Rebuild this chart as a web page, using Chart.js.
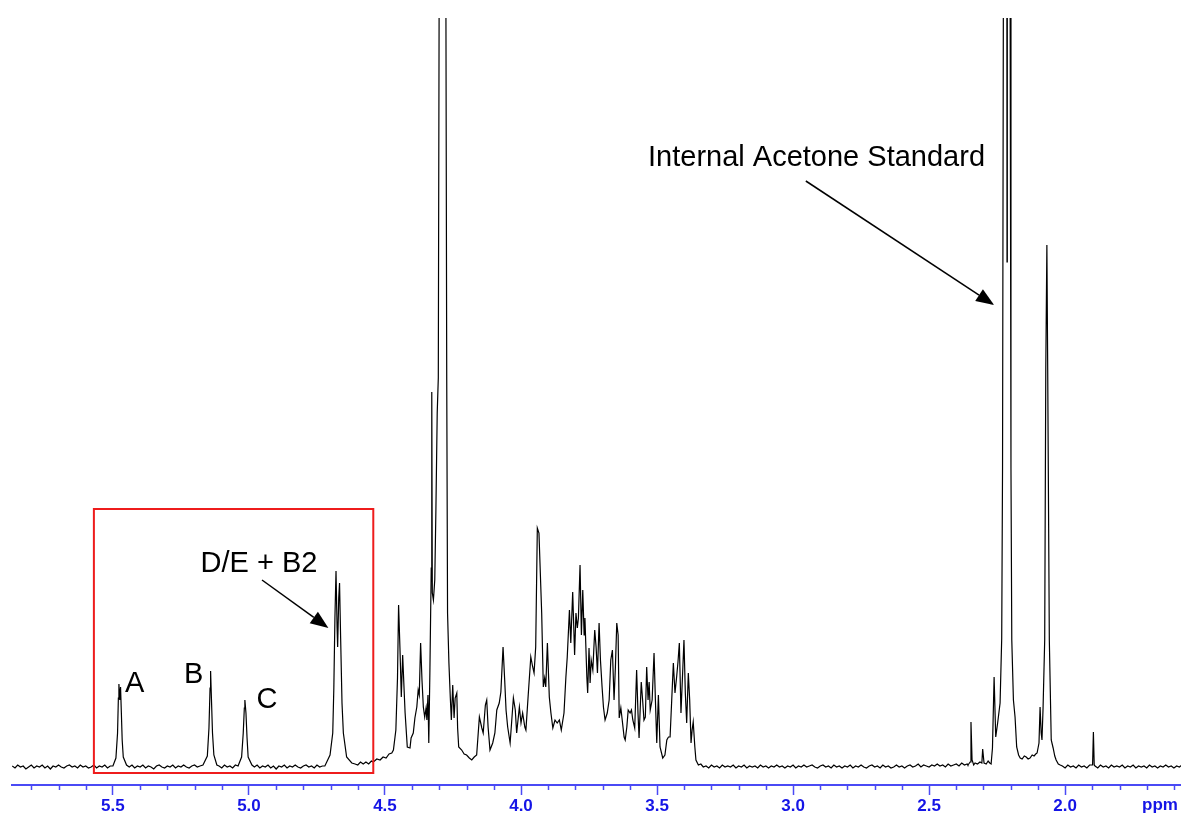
<!DOCTYPE html>
<html>
<head>
<meta charset="utf-8">
<script src="https://cdn.jsdelivr.net/npm/chart.js@4.4.1/dist/chart.umd.min.js"></script>
<style>
  html, body { margin: 0; padding: 0; background: #fff; }
  #wrap { width: 1181px; height: 814px; }
</style>
</head>
<body>
<div id="wrap"><canvas id="nmrChart" width="1181" height="814"></canvas></div>
<script>
// spectrum, [ppm, intensity]
const baselineLeft = [[5.87,2],[5.86,0],[5.85,3],[5.84,1],[5.83,2],[5.82,-1],[5.81,1],[5.80,3],[5.79,0],[5.78,2],
  [5.77,1],[5.76,3],[5.75,0],[5.74,2],[5.73,-1],[5.72,2],[5.71,1],[5.70,3],[5.69,1],[5.68,0],
  [5.67,2],[5.66,3],[5.65,1],[5.64,2],[5.63,0],[5.62,3],[5.61,1],[5.60,2],[5.59,0],[5.58,1],
  [5.57,3],[5.56,0],[5.55,2],[5.54,1],[5.53,3],[5.52,0],[5.51,2]];
const peakA = [[5.500,2],[5.489,10],[5.483,35],[5.480,70],[5.478,84],[5.475,68],[5.472,81],[5.469,55],[5.466,28],[5.462,11],[5.450,3]];
const baselineAB = [[5.44,1],[5.43,3],[5.42,0],[5.41,2],[5.40,1],[5.39,3],[5.38,0],[5.37,2],[5.36,1],[5.35,-1],
  [5.34,2],[5.33,3],[5.32,1],[5.31,0],[5.30,2],[5.29,1],[5.28,3],[5.27,0],[5.26,2],[5.25,1],
  [5.24,3],[5.23,1],[5.22,0],[5.21,2],[5.20,3],[5.19,1],[5.18,2]];
const peakB = [[5.169,3],[5.153,12],[5.147,40],[5.143,80],[5.141,97],[5.138,70],[5.134,35],[5.129,13],[5.118,3]];
const baselineBC = [[5.11,2],[5.10,0],[5.09,3],[5.08,1],[5.07,2],[5.06,0],[5.05,3]];
const peakC = [[5.040,2],[5.027,11],[5.021,35],[5.017,60],[5.015,68],[5.011,55],[5.007,30],[5.003,11],[4.989,3]];
const baselineCD = [[4.98,1],[4.97,3],[4.96,0],[4.95,2],[4.94,1],[4.93,3],[4.92,0],[4.91,2],[4.90,-1],[4.89,2],
  [4.88,1],[4.87,3],[4.86,0],[4.85,2],[4.84,1],[4.83,3],[4.82,1],[4.81,0],[4.80,2],[4.79,3],
  [4.78,1],[4.77,2],[4.76,0],[4.75,3],[4.74,1],[4.73,2]];
const peakDE = [[4.721,2],[4.702,13],[4.692,35],[4.688,80],[4.684,150],[4.680,197],[4.676,140],[4.674,121],[4.670,170],
  [4.667,185],[4.663,130],[4.658,65],[4.653,35],[4.641,11],[4.622,5],[4.61,4],[4.60,3],[4.59,6],[4.58,4],[4.57,6],
  [4.56,4],[4.55,7],[4.543,6],[4.53,9],[4.518,8],[4.507,11],[4.496,10],[4.485,14],[4.475,15],[4.469,18]];
const sugarHigh = [[4.460,38],[4.454,90],[4.450,163],[4.445,120],[4.440,71],[4.435,113],[4.430,80],[4.426,55],[4.418,21],
  [4.408,20],[4.404,30],[4.396,35],[4.390,50],[4.383,61],[4.378,78],[4.374,73],[4.369,125],[4.364,88],[4.359,61],
  [4.354,51],[4.349,60],[4.346,48],[4.342,73],[4.339,25],[4.335,95],[4.330,200],[4.328,376],[4.326,175],[4.322,168],
  [4.317,188],[4.313,255],[4.308,355],[4.304,390],[4.301,760],[4.289,2500],[4.276,760],[4.273,388],[4.270,155],
  [4.265,105],[4.260,71],[4.256,48],[4.251,83],[4.246,50],[4.242,70],[4.236,75],[4.233,40],[4.229,21],[4.218,18],
  [4.209,14],[4.200,13],[4.190,10],[4.181,8],[4.172,11],[4.163,13]];
const sugarLow = [[4.153,51],[4.144,40],[4.139,35],[4.131,63],[4.126,68],[4.121,41],[4.114,18],[4.104,25],[4.096,35],
  [4.089,58],[4.080,65],[4.074,76],[4.066,121],[4.060,88],[4.055,58],[4.049,41],[4.040,25],[4.028,70],[4.021,58],
  [4.016,35],[4.006,61],[4.000,45],[3.994,55],[3.986,41],[3.982,38],[3.973,75],[3.964,111],[3.957,101],[3.952,95],
  [3.946,121],[3.940,240],[3.934,235],[3.924,155],[3.918,81],[3.913,90],[3.909,81],[3.903,125],[3.896,71],[3.890,55],
  [3.883,40],[3.875,48],[3.867,45],[3.859,48],[3.852,38],[3.842,55],[3.835,91],[3.830,111],[3.822,158],[3.817,125],
  [3.810,176],[3.803,113],[3.798,155],[3.793,140],[3.789,150],[3.783,203],[3.778,133],[3.773,178],[3.768,133],
  [3.765,150],[3.758,91],[3.755,75],[3.750,120],[3.746,85],[3.742,108],[3.736,98],[3.729,138],[3.724,121],[3.719,95],
  [3.713,145],[3.708,108],[3.702,81],[3.697,61],[3.691,48],[3.683,55],[3.676,68],[3.670,108],[3.664,118],[3.658,68],
  [3.653,101],[3.648,145],[3.643,133],[3.639,50],[3.633,60],[3.628,48],[3.621,31],[3.617,28],[3.611,41],[3.606,58],
  [3.599,55],[3.594,58],[3.589,48],[3.582,40],[3.575,98],[3.570,55],[3.566,30],[3.558,86],[3.553,68],[3.548,48],
  [3.543,51],[3.538,101],[3.533,68],[3.529,86],[3.525,58],[3.518,68],[3.511,115],[3.506,68],[3.501,25],[3.495,73],
  [3.489,21],[3.479,10],[3.471,13],[3.464,28],[3.458,31],[3.452,31],[3.446,68],[3.440,105],[3.434,75],[3.428,91],
  [3.423,106],[3.418,125],[3.412,55],[3.405,101],[3.401,128],[3.396,75],[3.391,45],[3.385,95],[3.380,68],[3.375,25],
  [3.371,38],[3.367,46],[3.361,21],[3.357,8],[3.348,3],[3.339,4],[3.330,1]];
const baselineRight = [[3.32,2],[3.31,0],[3.30,3],[3.29,1],[3.28,2],[3.27,0],[3.26,3],[3.25,1],[3.24,2],[3.23,1],
  [3.22,3],[3.21,0],[3.20,2],[3.19,1],[3.18,3],[3.17,0],[3.16,2],[3.15,1],[3.14,2],[3.13,0],
  [3.12,3],[3.11,1],[3.10,2],[3.09,0],[3.08,2],[3.07,1],[3.06,3],[3.05,1],[3.04,2],[3.03,0],
  [3.02,2],[3.01,1],[3.00,3],[2.99,0],[2.98,2],[2.97,1],[2.96,3],[2.95,1],[2.94,2],[2.93,3],
  [2.92,1],[2.91,0],[2.90,2],[2.89,3],[2.88,1],[2.87,2],[2.86,0],[2.85,3],[2.84,1],[2.83,2],
  [2.82,0],[2.81,2],[2.80,1],[2.79,3],[2.78,0],[2.77,2],[2.76,1],[2.75,3],[2.74,1],[2.73,0],
  [2.72,2],[2.71,3],[2.70,1],[2.69,2],[2.68,0],[2.67,3],[2.66,1],[2.65,2],[2.64,0],[2.63,1],
  [2.62,3],[2.61,1],[2.60,2],[2.59,0],[2.58,2],[2.57,3],[2.56,1],[2.55,2],[2.54,4],[2.53,1],
  [2.52,3],[2.51,2],[2.50,1],[2.49,3],[2.48,2],[2.47,4],[2.46,2],[2.45,3],[2.44,1],[2.43,4],
  [2.42,2],[2.41,3],[2.40,4],[2.39,2],[2.38,5],[2.37,3],[2.36,4]];
const acetoneRegion = [[2.357,3],[2.349,6],[2.346,46],[2.342,8],[2.336,3],[2.331,5],[2.322,4],[2.313,6],[2.306,5],[2.303,19],
  [2.298,5],[2.290,4],[2.283,7],[2.277,5],[2.272,4],[2.267,20],[2.261,91],[2.255,31],[2.248,45],[2.239,65],[2.233,130],
  [2.230,300],[2.227,760],[2.221,2500],[2.2145,1000],[2.2135,506],[2.2125,1000],[2.207,2500],[2.202,760],[2.199,300],
  [2.196,128],[2.190,68],[2.184,51],[2.178,21],[2.171,13],[2.165,10],[2.158,9],[2.150,12],[2.143,11],[2.136,9],
  [2.129,10],[2.121,13],[2.114,12],[2.108,14],[2.103,15],[2.096,25],[2.092,61],[2.088,35],[2.085,28],[2.081,60],
  [2.075,128],[2.071,400],[2.067,523],[2.064,400],[2.058,128],[2.051,28],[2.044,20],[2.038,12],[2.033,8],[2.025,4],
  [2.018,3]];
const baselineMid = [[2.01,2],[2.00,0],[1.99,3],[1.98,1],[1.97,2],[1.96,0],[1.95,3],[1.94,1],[1.93,2],[1.92,0],[1.91,3],
  [1.899,3],[1.896,36],[1.893,3]];
const baselineFar = [[1.89,2],[1.88,0],[1.87,3],[1.86,1],[1.85,2],[1.84,0],[1.83,3],[1.82,1],[1.81,2],[1.80,1],
  [1.79,3],[1.78,0],[1.77,2],[1.76,1],[1.75,3],[1.74,0],[1.73,2],[1.72,1],[1.71,2],[1.70,0],
  [1.69,3],[1.68,1],[1.67,2],[1.66,0],[1.65,2],[1.64,1],[1.63,3],[1.62,1],[1.61,2],[1.60,0],
  [1.59,2],[1.58,1],[1.57,3]];

const majorTicks = [5.5, 5.0, 4.5, 4.0, 3.5, 3.0, 2.5, 2.0];
const minorTicks = [5.8, 5.7, 5.6, 5.4, 5.3, 5.2, 5.1, 4.9, 4.8, 4.7, 4.6, 4.4, 4.3, 4.2, 4.1, 3.9, 3.8, 3.7, 3.6,
  3.4, 3.3, 3.2, 3.1, 2.9, 2.8, 2.7, 2.6, 2.4, 2.3, 2.2, 2.1, 1.9, 1.8, 1.7, 1.6];

// labels placed in data coordinates [ppm, intensity]
const labels = [
  { text: 'A', at: [5.456, 76] },
  { text: 'B', at: [5.239, 85] },
  { text: 'C', at: [4.972, 60] },
  { text: 'D/E + B2', at: [5.178, 196] },
  { text: 'Internal Acetone Standard', at: [3.533, 602] }
];
const arrows = [
  { from: [4.952, 188], to: [4.708, 140] },
  { from: [2.953, 587], to: [2.261, 463] }
];
const regionBox = { from: 5.570, to: 4.543, top: 259, bottom: -5 };

const spectrum = [].concat(baselineLeft, peakA, baselineAB, peakB, baselineBC, peakC, baselineCD, peakDE,
  sugarHigh, sugarLow, baselineRight, acetoneRegion, baselineMid, baselineFar)
  .sort((a, b) => b[0] - a[0])
  .map(p => ({ x: p[0], y: p[1] }));

const axisBlue = '#4a4af5';
const labelBlue = '#1515e6';
const fontFamily = '"Liberation Sans", Arial, sans-serif';

const overlay = {
  id: 'overlay',
  afterDraw(chart) {
    const c = chart.ctx;
    const xs = chart.scales.x;
    const ys = chart.scales.y;
    const bottom = chart.chartArea.bottom;

    // minor ticks
    c.save();
    c.strokeStyle = axisBlue;
    c.lineWidth = 1.5;
    minorTicks.forEach(v => {
      const px = Math.round(xs.getPixelForValue(v)) + 0.5;
      c.beginPath();
      c.moveTo(px, bottom);
      c.lineTo(px, bottom + 5);
      c.stroke();
    });

    // unit label
    c.fillStyle = labelBlue;
    c.font = 'bold 17px ' + fontFamily;
    c.textAlign = 'center';
    c.textBaseline = 'alphabetic';
    c.fillText('ppm', 1160, 810);

    // red region box
    c.strokeStyle = '#ee1c1c';
    c.lineWidth = 2;
    const bx1 = xs.getPixelForValue(regionBox.from);
    const bx2 = xs.getPixelForValue(regionBox.to);
    const by1 = ys.getPixelForValue(regionBox.top);
    const by2 = ys.getPixelForValue(regionBox.bottom);
    c.strokeRect(bx1, by1, bx2 - bx1, by2 - by1);

    // text labels
    c.fillStyle = '#000';
    c.font = '29px ' + fontFamily;
    c.textAlign = 'left';
    labels.forEach(l => {
      c.fillText(l.text, xs.getPixelForValue(l.at[0]), ys.getPixelForValue(l.at[1]));
    });

    // arrows
    c.strokeStyle = '#000';
    c.lineWidth = 1.5;
    arrows.forEach(a => {
      const x1 = xs.getPixelForValue(a.from[0]), y1 = ys.getPixelForValue(a.from[1]);
      const x2 = xs.getPixelForValue(a.to[0]), y2 = ys.getPixelForValue(a.to[1]);
      const ang = Math.atan2(y2 - y1, x2 - x1);
      const len = 18, half = 7;
      const bx = x2 - len * Math.cos(ang), by = y2 - len * Math.sin(ang);
      c.beginPath();
      c.moveTo(x1, y1);
      c.lineTo(bx, by);
      c.stroke();
      c.beginPath();
      c.moveTo(x2, y2);
      c.lineTo(bx + half * Math.sin(ang), by - half * Math.cos(ang));
      c.lineTo(bx - half * Math.sin(ang), by + half * Math.cos(ang));
      c.closePath();
      c.fill();
    });
    c.restore();
  }
};

const ctx = document.getElementById('nmrChart').getContext('2d');
new Chart(ctx, {
  type: 'line',
  data: {
    datasets: [{
      label: '1H NMR',
      data: spectrum,
      borderColor: '#000',
      borderWidth: 1.2,
      pointRadius: 0,
      tension: 0,
      fill: false
    }]
  },
  options: {
    responsive: false,
    animation: false,
    layout: { padding: { left: 12, top: 18, right: 0, bottom: 0 } },
    plugins: {
      legend: { display: false },
      tooltip: { enabled: false }
    },
    scales: {
      x: {
        type: 'linear',
        reverse: true,
        min: 1.574,
        max: 5.871,
        afterBuildTicks: (scale) => { scale.ticks = majorTicks.map(v => ({ value: v })); },
        afterFit: (scale) => { scale.height = 29; },
        grid: { drawOnChartArea: false, drawTicks: true, tickLength: 10, tickColor: axisBlue, tickWidth: 1.5 },
        border: { display: true, color: axisBlue, width: 2 },
        ticks: {
          color: labelBlue,
          font: { family: fontFamily, size: 17, weight: 'bold' },
          padding: 1,
          maxRotation: 0,
          autoSkip: false,
          callback: (v) => Number(v).toFixed(1)
        }
      },
      y: { display: false, min: -17, max: 750 }
    }
  },
  plugins: [overlay]
});
</script>
</body>
</html>
